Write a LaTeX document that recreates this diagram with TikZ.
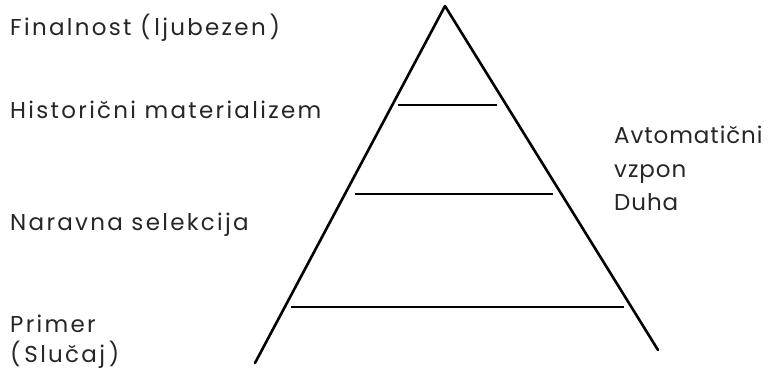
\documentclass[tikz,border=0pt]{standalone}
\usepackage{fontspec}
\setmainfont{Poppins}[LetterSpace=10, Ligatures=NoCommon]
\newfontfamily\narrowpoppins{Poppins}[LetterSpace=4, Ligatures=NoCommon]
\usetikzlibrary{positioning}

\begin{document}
\begin{tikzpicture}[x=1pt, y=-1pt,
    stage/.style={anchor=base west, inner sep=0pt, text=black!85, font=\fontsize{23}{26}\selectfont},
    sidelabel/.style={stage, font=\fontsize{23}{26}\narrowpoppins},
    side/.style={line width=2.6pt, line cap=round},
    rung/.style={line width=2.6pt}]
  \useasboundingbox (0,0) rectangle (777,369);

  % Pyramid
  \coordinate (apex) at (445,6);
  \coordinate (baseL) at (255,363);
  \coordinate (baseR) at (658,350);
  \draw[side] (baseL) -- (apex);
  \draw[side] (apex) -- (baseR);

  % Levels
  \coordinate (r1L) at (398,105);
  \coordinate (r1R) at (497,105);
  \draw[rung] (r1L) -- (r1R);

  \coordinate (r2L) at (355,194);
  \coordinate (r2R) at (553,194);
  \draw[rung] (r2L) -- (r2R);

  \coordinate (r3L) at (291,307);
  \coordinate (r3R) at (624,307);
  \draw[rung] (r3L) -- (r3R);

  % Left labels
  \node[stage] (final) at (10,36) {Finalnost (\,ljubezen\,)};
  \node[stage] (histmat) at (10,118) {Historični materializem};
  \node[stage] (narsel) at (10,230) {Naravna selekcija};
  \node[stage] (primer) at (10,332) {Primer};
  \node[stage] (slucaj) at (10,362) {(\,Slučaj\,)};

  % Right label
  \node[sidelabel] (avto) at (614,143) {Avtomatični};
  \node[sidelabel] (vzpon) at (614,177) {vzpon};
  \node[sidelabel] (duha) at (614,210) {Duha};
\end{tikzpicture}
\end{document}
